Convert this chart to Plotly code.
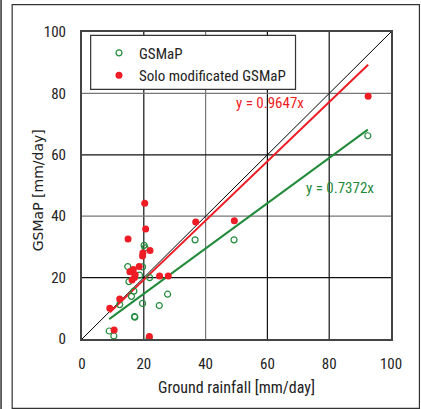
import plotly.graph_objects as go

# ---- data ----
gsmap_x = [8.8, 10.3, 12.2, 14.8, 15.2, 16.0, 16.8, 17.0, 17.1, 18.6, 19.6, 19.6, 20.1, 20.4, 21.9, 21.7, 25.0, 27.7, 36.6, 49.2, 92.5]
gsmap_y = [2.6, 1.0, 11.2, 23.6, 18.7, 13.9, 15.6, 7.3, 7.1, 20.8, 23.5, 11.6, 30.5, 29.7, 20.0, 0.2, 10.9, 14.6, 32.3, 32.3, 66.2]
solo_x = [9.0, 10.4, 12.2, 14.9, 15.5, 16.2, 16.6, 17.0, 17.2, 18.5, 19.6, 19.7, 20.3, 20.6, 22.0, 21.8, 25.1, 27.9, 36.8, 49.3, 92.6]
solo_y = [10.0, 2.9, 13.0, 32.6, 21.9, 19.2, 22.6, 20.0, 20.9, 23.6, 27.0, 28.0, 44.2, 35.8, 28.8, 0.8, 20.5, 20.5, 38.1, 38.5, 79.1]
slope_gsmap = 0.7372
slope_solo = 0.9647
tick_vals = [0, 20, 40, 60, 80, 100]
axis_range = [0, 100]

RED = "#ee1c25"
GREEN = "#228b3b"
FONT = "Liberation Sans Narrow, Roboto Condensed, Arial Narrow, Liberation Sans, sans-serif"

fig = go.Figure()

# 1:1 line
fig.add_trace(go.Scatter(x=axis_range, y=axis_range, mode="lines",
                         line=dict(color="black", width=1), showlegend=False, hoverinfo="skip"))

# regression lines
gx = [min(gsmap_x), max(gsmap_x)]
sx = [min(solo_x), max(solo_x)]
fig.add_trace(go.Scatter(x=gx, y=[slope_gsmap * v for v in gx], mode="lines",
                         line=dict(color=GREEN, width=2), showlegend=False))
fig.add_trace(go.Scatter(x=sx, y=[slope_solo * v for v in sx], mode="lines",
                         line=dict(color=RED, width=2), showlegend=False))

fig.add_trace(go.Scatter(x=gsmap_x, y=gsmap_y, mode="markers", name="GSMaP",
                         marker=dict(symbol="circle-open", size=6, color=GREEN, line=dict(width=1.2, color=GREEN))))
fig.add_trace(go.Scatter(x=solo_x, y=solo_y, mode="markers", name="Solo modificated GSMaP",
                         marker=dict(symbol="circle", size=7, color=RED)))

shapes = []
# gridlines (mixed dark/gray as in the reference)
vcol = {20: "#111", 40: "#777", 60: "#111", 80: "#111"}
hcol = {20: "#111", 40: "#777", 60: "#111", 80: "#777"}
for t in tick_vals[1:-1]:
    shapes.append(dict(type="line", xref="x", yref="y", x0=t, x1=t, y0=axis_range[0], y1=axis_range[1],
                       line=dict(color=vcol[t], width=1.2), layer="below"))
    shapes.append(dict(type="line", xref="x", yref="y", y0=t, y1=t, x0=axis_range[0], x1=axis_range[1],
                       line=dict(color=hcol[t], width=1.2), layer="below"))
# legend box
shapes.append(dict(type="rect", xref="paper", yref="paper", x0=0.028, x1=0.691, y0=0.813, y1=0.989,
                   fillcolor="white", line=dict(color="#333", width=1.2), layer="above"))
# outer frame
shapes.append(dict(type="rect", xref="paper", yref="paper", x0=-0.226, x1=1.092, y0=-0.226, y1=1.089,
                   line=dict(color="#333", width=1.2)))
shapes.append(dict(type="line", xref="paper", yref="paper", x0=-0.262, x1=-0.262, y0=-0.3, y1=1.2,
                   line=dict(color="#333", width=1.5)))

annotations = [
    dict(x=49.2, y=77.0, xref="x", yref="y", text="y = 0.9647x", showarrow=False,
         xanchor="left", yanchor="middle", font=dict(color=RED, size=15, family=FONT)),
    dict(x=71.9, y=49.1, xref="x", yref="y", text="y = 0.7372x", showarrow=False,
         xanchor="left", yanchor="middle", font=dict(color=GREEN, size=15, family=FONT)),
    # y-axis title
    dict(x=-0.142, y=0.485, xref="paper", yref="paper", text="GSMaP [mm/day]", showarrow=False,
         textangle=-90, xanchor="center", yanchor="middle",
         font=dict(size=14, family="DejaVu Sans, sans-serif", color="#222")),
]

axis_common = dict(range=axis_range, tickvals=tick_vals, showgrid=False, zeroline=False,
                   showline=True, mirror=True, linecolor="#444", linewidth=2,
                   tickfont=dict(size=15, family=FONT, color="#222"), ticks="")

fig.update_layout(
    width=421, height=409,
    margin=dict(l=82, r=30, t=32, b=70),
    paper_bgcolor="white", plot_bgcolor="white",
    font=dict(family=FONT, color="#222"),
    xaxis=dict(**axis_common, ticklabelstandoff=10,
               title=dict(text="Ground rainfall [mm/day]", font=dict(size=16, family=FONT, color="#222"), standoff=10)),
    yaxis=dict(**axis_common, ticklabelstandoff=11),
    legend=dict(x=0.055, y=0.985, xanchor="left", yanchor="top", bgcolor="rgba(0,0,0,0)",
                borderwidth=0, font=dict(size=15, family=FONT, color="#222"), tracegroupgap=0,
                itemwidth=30),
    shapes=shapes,
    annotations=annotations,
)

fig.write_html("out.html")
